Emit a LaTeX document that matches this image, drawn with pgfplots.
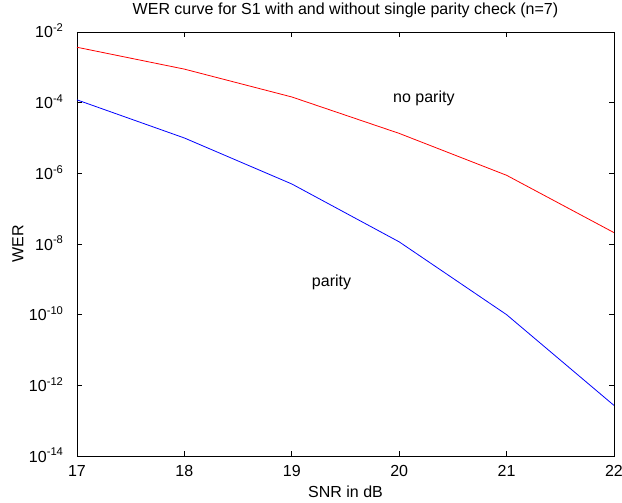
\documentclass[border=0pt]{standalone}
\usepackage{pgfplots}
\pgfplotsset{compat=1.18}
\usepackage{fontspec}
\setmainfont{Liberation Sans}

\begin{document}
\fontsize{16}{19}\selectfont
\begin{tikzpicture}
\useasboundingbox (-77pt,-47pt) rectangle (545pt,456pt);
\begin{axis}[scale only axis, width=537pt, height=424pt,
  ymode=log, xmin=17, xmax=22, ymin=1e-14, ymax=1e-2,
  xtick={17,18,19,20,21,22},
  ytick={1e-14,1e-12,1e-10,1e-8,1e-6,1e-4,1e-2},
  yticklabels={10\textsuperscript{-14},10\textsuperscript{-12},10\textsuperscript{-10},10\textsuperscript{-8},10\textsuperscript{-6},10\textsuperscript{-4},10\textsuperscript{-2}},
  yminorticks=false,
  /pgf/number format/assume math mode=true,
  tick align=inside, major tick length=5pt,
  every tick/.style={black, line width=0.7pt},
  axis line style={line width=0.7pt},
  xticklabel style={anchor=base, yshift=-20pt},
  yticklabel style={anchor=base east, xshift=-8pt, yshift=-6pt},
  title={WER curve for S1 with and without single parity check (n=7)},
  title style={at={(axis description cs:0.5,1)}, anchor=base, yshift=11pt},
  xlabel={SNR in dB},
  xlabel style={at={(axis description cs:0.5,0)}, anchor=base, yshift=-41pt},
  ylabel={WER},
  ylabel style={at={(axis description cs:-0.1099,0.5)}, anchor=center},
]
\addplot[red, line width=0.8pt] coordinates {(17,3.7e-3)(18,8.9e-4)(19,1.45e-4)(20,1.35e-5)(21,8.8e-7)(22,2.1e-8)};
\addplot[blue, line width=0.8pt] coordinates {(17,1.2e-4)(18,1.0e-5)(19,5.0e-7)(20,1.15e-8)(21,1.0e-10)(22,2.7e-13)};
\node at (axis cs:20.23,1.35e-4) {no parity};
\node at (axis cs:19.37,8.4e-10) {parity};
\end{axis}
\end{tikzpicture}
\end{document}
